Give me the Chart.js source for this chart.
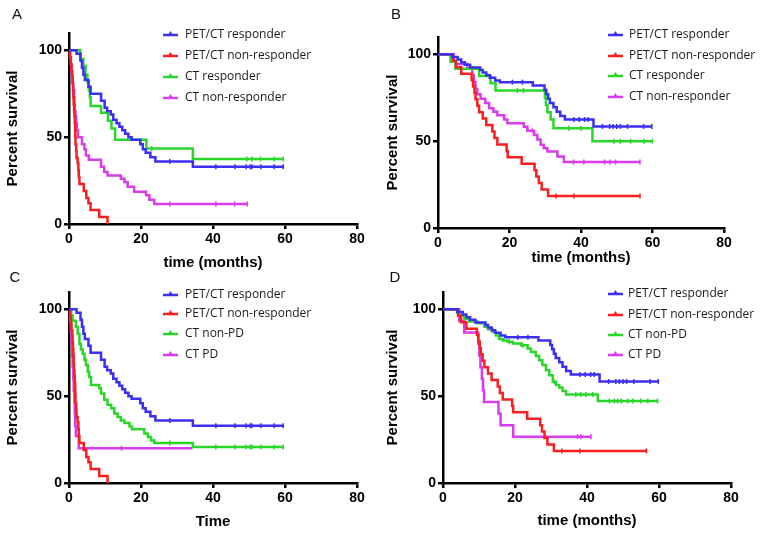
<!DOCTYPE html>
<html lang="en">
<head>
<meta charset="UTF-8">
<title>Kaplan-Meier survival curves</title>
<script src="https://cdn.jsdelivr.net/npm/chart.js@4"></script>
<style>
  body { margin: 0; background: #fff; }
  #wrap { position: relative; width: 762px; height: 537px; overflow: hidden; }
  canvas { position: absolute; }
</style>
</head>
<body>
<div id="wrap">
  <canvas id="panelA" width="381" height="272" style="left:0;top:0"></canvas>
  <canvas id="panelB" width="381" height="267" style="left:381px;top:0"></canvas>
  <canvas id="panelC" width="381" height="263" style="left:0;top:268px"></canvas>
  <canvas id="panelD" width="381" height="262" style="left:381px;top:268px"></canvas>
</div>
<script>
// Axis ticks
const xTicks = [0, 20, 40, 60, 80];
const yTicks = [0, 50, 100];

// Legend labels
const labelsAB = ['PET/CT responder', 'PET/CT non-responder', 'CT responder', 'CT non-responder'];
const labelsCD = ['PET/CT responder', 'PET/CT non-responder', 'CT non-PD', 'CT PD'];

// Series colours: blue, red, green, magenta
const seriesColors = ['#3b2ff2', '#fa1e1e', '#29d629', '#d93ced'];

// Curves as [time (months), percent survival after the event]; last pair = end of follow-up
// Panels A and C share the PET/CT curves
const petRespAC = [[0,100],[2.1,98],[3.2,94],[3.6,90],[4.0,86],[4.4,83],[5.4,79],[6.0,75],[8.9,71],[9.9,67],[10.6,65],
  [11.6,63],[12.3,60],[13.2,58],[14.0,56],[14.8,54],[15.6,52],[16.5,50],[17.4,48.5],[19.8,46],[20.5,43],[21.3,41],
  [22.6,38.5],[24.0,36],[34.4,33],[59.5,33]];
const petRespACCensor = [28, 40.8, 46.1, 49.2, 50.3, 50.8, 53.3, 57, 59.5];

const petNonAC = [[0,100],[0.3,96],[0.5,92],[0.7,88],[0.9,85],[1.0,81],[1.1,77],[1.2,73],[1.3,69],[1.4,65],[1.5,62],
  [1.6,58],[1.7,54],[1.75,50],[1.8,46],[2.0,42],[2.1,38],[2.4,35],[2.6,31],[2.7,27],[2.9,23],[4.1,19],[4.8,15],
  [5.4,12],[6.0,8],[8.4,4],[10.7,0]];
const petNonACCensor = [];

const ctRespA = [[0,100],[3.1,95],[4.0,91],[4.6,86],[5.1,82],[5.5,77],[5.8,73],[6.0,68],[8.9,64],[10.8,59.5],
  [11.8,55],[12.8,48.5],[21.5,43.5],[34.4,37.5],[59.5,37.5]];
const ctRespACensor = [23, 49.4, 50.8, 53.2, 57, 59.5];

const ctNonA = [[0,100],[0.3,96],[0.5,92],[0.7,88],[0.8,85],[1.0,81],[1.2,77],[1.4,73],[1.5,69],[1.6,65],[1.8,62],
  [2.0,58],[2.2,54],[2.5,50],[3.6,46],[4.3,43],[4.7,39.5],[5.5,37],[8.9,33],[9.8,30],[10.7,28],[14.4,26],[15.4,24],
  [16.3,21.5],[18.1,18.6],[21.4,16.5],[22.3,14],[23.7,11.5],[49.5,11.5]];
const ctNonACensor = [28, 40.8, 46, 49.5];

const ctNonPdC = [[0,100],[0.6,96.5],[1.0,93.5],[1.9,90],[2.4,86],[2.9,80],[3.3,77],[3.8,74.5],[4.3,71],[4.7,68],
  [5.2,64],[5.6,61],[6.1,56.5],[8.4,54.5],[8.9,51.5],[9.8,48],[10.7,45],[11.7,43],[12.6,40],[13.5,38],[14.4,36],
  [15.4,34.5],[16.8,32.5],[17.5,31],[20.9,28.5],[21.9,26.5],[22.8,24.5],[23.7,23],[34.4,20.7],[59.5,20.7]];
const ctNonPdCCensor = [28, 40.8, 46.1, 49.2, 50.3, 50.8, 53.3, 57, 59.5];

const ctPdC = [[0,100],[0.3,93],[0.5,87],[0.7,80],[0.9,73],[1.0,67],[1.2,60],[1.3,53],[1.5,47],[1.6,40],[1.7,33],
  [1.9,27],[2.7,20],[34.3,20]];
const ctPdCCensor = [14.6];

// Panels B and D share the PET/CT curves
const petRespBD = [[0,100],[4.0,98.5],[5.5,97],[6.5,95.5],[7.5,94],[9.0,92.5],[11.8,91],[12.5,89.5],[13.5,88],
  [14.5,86.5],[16.0,85],[17.3,84],[26.5,82],[29.8,79.5],[30.3,77],[30.8,74.5],[31.3,72],[32.3,69.5],[33.2,67],
  [34.2,64.5],[35.5,62.5],[43.5,58.5],[59.8,58.5]];
const petRespBDCensor = [20.8, 23.6, 38, 39.5, 41, 42, 46, 48, 49, 50, 51, 53, 57.5, 59.8];

const petNonBD = [[0,100],[4.2,96.3],[5.0,92.6],[6.5,88.9],[9.4,85.2],[9.8,81.5],[10.2,77.8],[10.5,74.1],[11.0,70.4],
  [11.5,66.7],[12.5,63],[13.5,59.3],[15.2,55.6],[15.8,51.9],[16.6,48.1],[19.2,44.4],[19.5,40.7],[23.4,37],[27.0,33.3],
  [27.5,29.6],[28.2,25.9],[29.0,22.2],[30.8,18.5],[56.5,18.5]];
const petNonBDCensor = [33, 38, 56.5];

const ctRespB = [[0,100],[3.5,95.8],[4.9,91.7],[11.5,87.5],[14.7,83.3],[16.1,79.2],[29.9,75],[30.2,70.8],[30.6,66.7],
  [31.5,62.5],[32.3,57.5],[43.2,50],[60,50]];
const ctRespBCensor = [22.2, 23.9, 36.6, 40, 49.2, 51, 53.9, 57.6, 60];

const ctNonB = [[0,100],[4.4,96],[5.0,94.5],[8.2,92],[9.6,88],[10.0,84],[10.5,80],[11.0,77],[11.9,74.5],[13.2,72],
  [14.3,69],[15.5,67],[16.6,65],[18.5,62.5],[19.4,60.3],[24.0,58.3],[25.0,56],[26.9,53.6],[27.8,51],[28.7,48],
  [29.6,46],[30.6,44],[33.4,41.2],[35.2,38],[56.5,38]];
const ctNonBCensor = [26.4, 37.9, 40.8, 46.6, 48.1, 49.7, 56.5];

const ctNonPdD = [[0,100],[3.9,98],[4.5,96.5],[5.9,94.5],[7.3,93],[9.6,92],[11.5,90],[12.5,88.5],[13.8,87],[14.7,85],
  [15.6,83],[16.6,82],[18.0,81.3],[19.4,80.3],[21.7,79.3],[23.5,77.4],[24.4,75.5],[25.8,73.2],[26.7,70.7],[27.6,68],
  [28.6,65],[29.5,62],[30.5,58.3],[31.4,56.4],[32.3,55],[33.2,53],[34.2,51],[43.0,47.2],[59.6,47.2]];
const ctNonPdDCensor = [18.4, 22.1, 30.9, 36.9, 38.3, 39.7, 41.6, 46.2, 47.6, 48.5, 49.5, 51.3, 52.7, 55, 56.9, 59.6];

const ctPdD = [[0,100],[4.5,93.3],[5.9,86.7],[9.8,80],[10.1,73.3],[10.4,66.7],[10.8,60],[11.1,53.3],[11.4,46.7],
  [15.4,40],[16.0,33.3],[19.5,26.7],[41.1,26.7]];
const ctPdDCensor = [37.4, 38.3, 41.1];

// survival value at time t
function survAt(steps, t) {
  let s = steps[0][1];
  for (const [x, y] of steps) {
    if (x <= t) s = y;
  }
  return s;
}

// Draws the panel letter and the legend inside the plot
function legendPlugin(g, letter, labels) {
  return {
    id: 'kmLegend',
    afterDraw(chart) {
      const ctx = chart.ctx;
      ctx.save();
      ctx.fillStyle = '#111';
      ctx.font = '15px "Liberation Sans", Arial, sans-serif';
      ctx.textAlign = 'center';
      ctx.textBaseline = 'middle';
      ctx.fillText(letter, g.letterX, g.letterY);

      ctx.font = '12px "Open Sans", sans-serif';
      ctx.textAlign = 'left';
      labels.forEach((lab, i) => {
        const y = g.legendRows[i];
        ctx.strokeStyle = seriesColors[i];
        ctx.lineWidth = 2.5;
        ctx.beginPath();
        ctx.moveTo(g.legendX, y);
        ctx.lineTo(g.legendX + 15, y);
        ctx.stroke();
        const mx = g.legendX + 7.5;
        ctx.fillStyle = seriesColors[i];
        ctx.beginPath();
        ctx.moveTo(mx - 3, y + 1);
        ctx.lineTo(mx + 3, y + 1);
        ctx.lineTo(mx, y - 4);
        ctx.closePath();
        ctx.fill();
        ctx.fillStyle = '#1a1a1a';
        ctx.fillText(lab, g.legendTextX, y);
      });
      ctx.restore();
    }
  };
}

function makePanel(id, g, letter, labels, curves, xTitle) {
  const datasets = [];
  curves.forEach((c, i) => {
    datasets.push({
      label: labels[i],
      data: c.steps.map(([x, y]) => ({ x, y })),
      stepped: 'before',
      borderColor: seriesColors[i],
      borderWidth: 2.5,
      pointRadius: 0,
      fill: false,
      clip: 3
    });
  });
  // censor marks
  curves.forEach((c, i) => {
    datasets.push({
      label: labels[i] + ' censored',
      data: c.censor.map(t => ({ x: t, y: survAt(c.steps, t) })),
      showLine: false,
      pointStyle: 'line',
      pointRotation: 90,
      pointRadius: 2.5,
      pointBorderWidth: 1.5,
      pointBorderColor: seriesColors[i],
      borderColor: seriesColors[i],
      clip: 5
    });
  });

  const tickFont = { family: '"Liberation Sans", Arial, sans-serif', size: 14, weight: 'bold' };
  const titleFont = { family: '"Liberation Sans", Arial, sans-serif', size: 15, weight: 'bold' };
  const canvas = document.getElementById(id);

  new Chart(canvas, {
    type: 'line',
    data: { datasets },
    options: {
      responsive: false,
      animation: false,
      events: [],
      layout: { padding: { left: 0, top: g.top, right: canvas.width - g.right, bottom: 0 } },
      plugins: { legend: { display: false }, tooltip: { enabled: false } },
      scales: {
        x: {
          type: 'linear',
          min: 0,
          max: 80,
          afterBuildTicks: s => { s.ticks = xTicks.map(v => ({ value: v })); },
          afterFit: s => { s.height = canvas.height - g.bottom; },
          grid: { drawOnChartArea: false, color: '#000', lineWidth: 2.5, tickLength: 5 },
          border: { color: '#000', width: 2.5 },
          ticks: { color: '#000', font: tickFont, padding: 2, maxRotation: 0 },
          title: { display: true, text: xTitle, color: '#000', font: titleFont, padding: 0 }
        },
        y: {
          min: 0,
          max: 110,
          afterBuildTicks: s => { s.ticks = yTicks.map(v => ({ value: v })); },
          afterFit: s => { s.width = g.left; },
          grid: { drawOnChartArea: false, color: '#000', lineWidth: 2.5, tickLength: 5 },
          border: { color: '#000', width: 2.5 },
          ticks: { color: '#000', font: tickFont, padding: 2 },
          title: { display: true, text: 'Percent survival', color: '#000', font: titleFont,
                   padding: { top: g.yTitleX - 9, bottom: 0 } }
        }
      }
    },
    plugins: [legendPlugin(g, letter, labels)]
  });
}

makePanel('panelA',
  { left: 69, right: 357, top: 33, bottom: 224, yTitleX: 13, letterX: 17, letterY: 15,
    legendX: 163, legendTextX: 185, legendRows: [35, 56, 77, 98] },
  'A', labelsAB,
  [{ steps: petRespAC, censor: petRespACCensor }, { steps: petNonAC, censor: petNonACCensor },
   { steps: ctRespA, censor: ctRespACensor }, { steps: ctNonA, censor: ctNonACensor }],
  'time (months)');

makePanel('panelB',
  { left: 57, right: 343, top: 37, bottom: 228, yTitleX: 12, letterX: 15, letterY: 15,
    legendX: 227, legendTextX: 248, legendRows: [35, 56, 76, 97] },
  'B', labelsAB,
  [{ steps: petRespBD, censor: petRespBDCensor }, { steps: petNonBD, censor: petNonBDCensor },
   { steps: ctRespB, censor: ctRespBCensor }, { steps: ctNonB, censor: ctNonBCensor }],
  'time (months)');

makePanel('panelC',
  { left: 69, right: 357, top: 24, bottom: 215, yTitleX: 13, letterX: 15, letterY: 10,
    legendX: 163, legendTextX: 185, legendRows: [27, 46, 66, 87] },
  'C', labelsCD,
  [{ steps: petRespAC, censor: petRespACCensor }, { steps: petNonAC, censor: petNonACCensor },
   { steps: ctNonPdC, censor: ctNonPdCCensor }, { steps: ctPdC, censor: ctPdCCensor }],
  'Time');

makePanel('panelD',
  { left: 62, right: 350, top: 24, bottom: 215, yTitleX: 12, letterX: 14, letterY: 10,
    legendX: 227, legendTextX: 247, legendRows: [26, 47, 67, 87] },
  'D', labelsCD,
  [{ steps: petRespBD, censor: petRespBDCensor }, { steps: petNonBD, censor: petNonBDCensor },
   { steps: ctNonPdD, censor: ctNonPdDCensor }, { steps: ctPdD, censor: ctPdDCensor }],
  'time (months)');
</script>
</body>
</html>
